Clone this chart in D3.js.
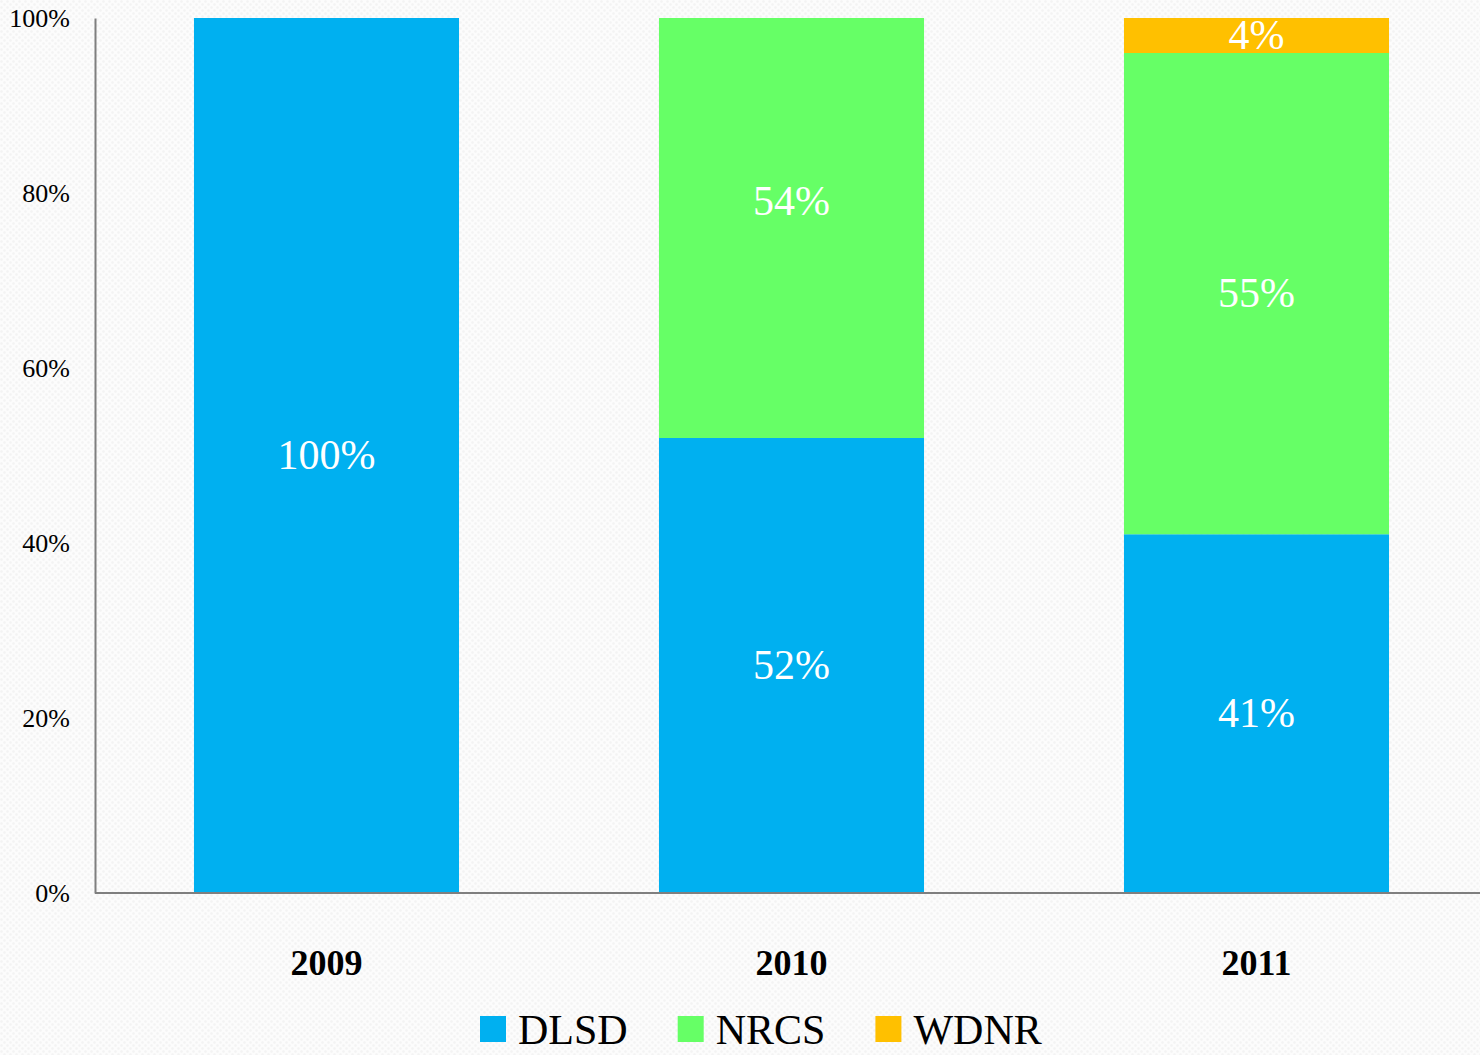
<!DOCTYPE html>
<html>
<head>
<meta charset="utf-8">
<script src="https://cdn.jsdelivr.net/npm/d3@7"></script>
<style>
  body { margin: 0; background: #fbfbfb; }
  svg { display: block; }
  text { font-family: "Liberation Serif", serif; }
</style>
</head>
<body>
<div id="chart"></div>
<script>
const years = ['2009', '2010', '2011'];
const seriesNames = ['DLSD', 'NRCS', 'WDNR'];
const dlsd = [100, 52, 41];
const nrcs = [0, 54, 55];
const wdnr = [0, 0, 4];
const yTicks = [0, 20, 40, 60, 80, 100];
const colors = ['#00b0f0', '#66ff66', '#ffc000'];

const width = 1480;
const height = 1055;
const margin = { top: 18, right: -9, bottom: 162, left: 94 };

const rows = years.map((y, i) => ({ year: y, DLSD: dlsd[i], NRCS: nrcs[i], WDNR: wdnr[i] }));
const stacked = d3.stack().keys(seriesNames)(rows);

const svg = d3.select('#chart')
  .append('svg')
  .attr('width', width)
  .attr('height', height);

// faint dotted paper background
const defs = svg.append('defs');
const pat = defs.append('pattern')
  .attr('id', 'bg')
  .attr('width', 6)
  .attr('height', 6)
  .attr('patternUnits', 'userSpaceOnUse');
pat.append('rect').attr('width', 6).attr('height', 6).attr('fill', '#fcfcfc');
pat.append('circle').attr('cx', 1.5).attr('cy', 1.5).attr('r', 1.2).attr('fill', '#f3f3f3');
pat.append('circle').attr('cx', 4.5).attr('cy', 4.5).attr('r', 1.2).attr('fill', '#f3f3f3');
svg.append('rect').attr('width', width).attr('height', height).attr('fill', 'url(#bg)');

const x = d3.scaleBand()
  .domain(years)
  .range([margin.left, width - margin.right])
  .paddingInner(0.43)
  .paddingOuter(0.215);

const y = d3.scaleLinear()
  .domain([0, 100])
  .range([height - margin.bottom, margin.top]);

defs.append('clipPath')
  .attr('id', 'plot')
  .append('rect')
  .attr('x', margin.left)
  .attr('y', y(100))
  .attr('width', width)
  .attr('height', y(0) - y(100));

const layers = svg.append('g').attr('clip-path', 'url(#plot)')
  .selectAll('g')
  .data(stacked)
  .enter()
  .append('g')
  .attr('fill', (d, i) => colors[i]);

layers.selectAll('rect')
  .data(d => d)
  .enter()
  .append('rect')
  .attr('x', d => x(d.data.year))
  .attr('y', d => y(d[1]))
  .attr('width', x.bandwidth())
  .attr('height', d => y(d[0]) - y(d[1]));

// data labels
const labels = [];
stacked.forEach(s => s.forEach(d => {
  const v = d[1] - d[0];
  if (v > 0) labels.push({ year: d.data.year, v: v, mid: (d[0] + d[1]) / 2 });
}));

svg.append('g')
  .selectAll('text')
  .data(labels)
  .enter()
  .append('text')
  .attr('x', d => x(d.year) + x.bandwidth() / 2)
  .attr('y', d => y(d.mid))
  .attr('dy', '0.32em')
  .attr('text-anchor', 'middle')
  .attr('fill', '#fff')
  .attr('font-size', 42)
  .text(d => d.v + '%');

// axes
const axisColor = '#7f7f7f';
svg.append('g')
  .attr('transform', `translate(${margin.left + 1},0)`)
  .call(d3.axisLeft(y).tickValues(yTicks).tickSize(0).tickPadding(25).tickFormat(d => d + '%'))
  .call(g => g.select('.domain').attr('stroke', axisColor).attr('stroke-width', 2))
  .call(g => g.selectAll('text').attr('font-size', 26).attr('fill', '#000').attr('font-family', '"Liberation Serif", serif'));

svg.append('g')
  .attr('transform', `translate(0,${y(0)})`)
  .call(d3.axisBottom(x).tickSize(0).tickPadding(56))
  .call(g => g.select('.domain').attr('stroke', axisColor).attr('stroke-width', 2).attr('d', `M${margin.left + 1},0H${width}`))
  .call(g => g.selectAll('text').attr('font-size', 36).attr('font-weight', 'bold').attr('fill', '#000').attr('font-family', '"Liberation Serif", serif'));

// legend (kept just inside the bottom edge)
const legend = svg.append('g').attr('transform', 'translate(480,1016)');
let lx = 0;
seriesNames.forEach((name, i) => {
  const item = legend.append('g').attr('transform', `translate(${lx},0)`);
  item.append('rect').attr('width', 26).attr('height', 26).attr('fill', colors[i]);
  const t = item.append('text')
    .attr('x', 38)
    .attr('y', 28)
    .attr('font-size', 42)
    .attr('fill', '#000')
    .text(name);
  lx += 38 + t.node().getComputedTextLength() + 50;
});
</script>
</body>
</html>
